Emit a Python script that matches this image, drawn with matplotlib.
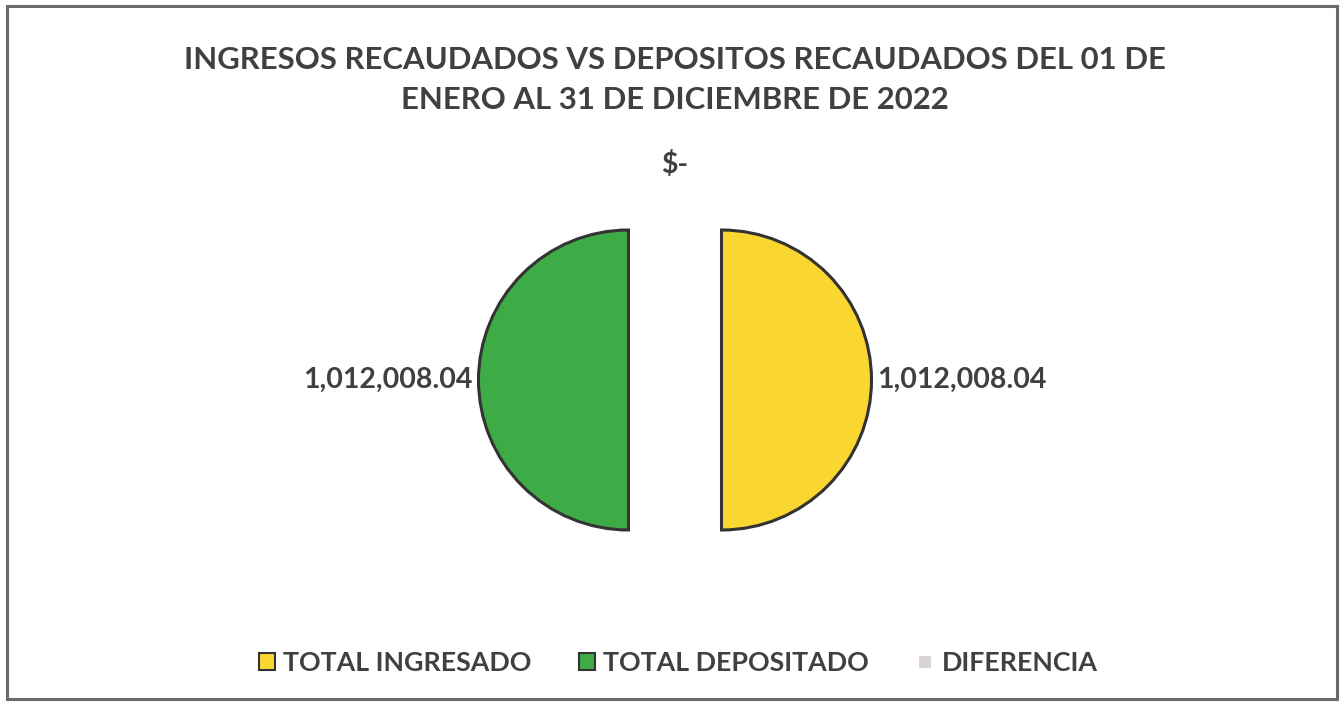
import matplotlib
matplotlib.use("Agg")
import matplotlib.pyplot as plt
import numpy as np
from matplotlib.patches import Rectangle, Patch
from matplotlib.lines import Line2D

plt.rcParams['font.family'] = ['Lato', 'DejaVu Sans']

categories = ["TOTAL INGRESADO", "TOTAL DEPOSITADO", "DIFERENCIA"]
values = [1012008.04, 1012008.04, 0.0]
value_labels = ["1,012,008.04", "1,012,008.04", "$-"]
colors = ["#FAD631", "#3DAC47", "#D9D2D6"]
title = "INGRESOS RECAUDADOS VS DEPOSITOS RECAUDADOS DEL 01 DE\nENERO AL 31 DE DICIEMBRE DE 2022"

TEXT = "#404040"
W, H, DPI = 1341, 703, 100
fig = plt.figure(figsize=(W / DPI, H / DPI), dpi=DPI)
fig.patch.set_facecolor("white")

# outer chart frame
fig.add_artist(Rectangle((7 / W, 4 / H), (1337 - 7) / W, (699 - 6) / H,
                         transform=fig.transFigure, fill=False,
                         edgecolor="#6A6A6A", linewidth=2.2))

ax = fig.add_axes([0, 0, 1, 1])
wedges, _ = ax.pie(values, colors=colors, startangle=90, counterclock=False,
                   explode=[0.31, 0.31, 0.31],
                   wedgeprops=dict(edgecolor="#333333", linewidth=2.2))
wedges[2].set_linewidth(0)

# scale: 150 px per data unit, pie centre at (675, 380) from top
s = 150.0
cx, cy = 675.0, H - 380.0
ax.set_xlim(-cx / s, (W - cx) / s)
ax.set_ylim(-cy / s, (H - cy) / s)
ax.set_aspect("auto")
ax.axis("off")

# value labels at the outside end of each slice
gap = 0.04
for w, lab in zip(wedges, value_labels):
    mid = np.deg2rad((w.theta1 + w.theta2) / 2.0)
    r = w.r + gap
    x = w.center[0] + r * np.cos(mid)
    y = w.center[1] + r * np.sin(mid)
    c = np.cos(mid)
    sn = np.sin(mid)
    if abs(c) > 0.5:
        ha = "left" if c > 0 else "right"
        va = "center"
    else:
        ha = "center"
        va = "bottom" if sn > 0 else "top"
    ax.text(x, y, lab, ha=ha, va=va, fontsize=20.5, fontweight="bold",
            color=TEXT)

fig.text(675 / W, 1 - 80 / H, title, ha="center", va="center",
         fontsize=22.4, fontweight="bold", color=TEXT, linespacing=1.52)

handles = [Patch(facecolor=colors[0], edgecolor="#333333", linewidth=1.5),
           Patch(facecolor=colors[1], edgecolor="#333333", linewidth=1.5),
           Line2D([], [], linestyle="none", marker="s", markersize=8.5,
                  markerfacecolor=colors[2], markeredgewidth=0)]
leg = fig.legend(handles, categories, loc="center", ncol=3,
                 bbox_to_anchor=(678 / W, 1 - 663 / H), frameon=False,
                 handlelength=0.6, handleheight=0.6, handletextpad=0.3,
                 columnspacing=1.8,
                 prop=dict(size=19.3, weight="bold"))
for t in leg.get_texts():
    t.set_color(TEXT)

fig.savefig("out.png", dpi=DPI, facecolor="white")
